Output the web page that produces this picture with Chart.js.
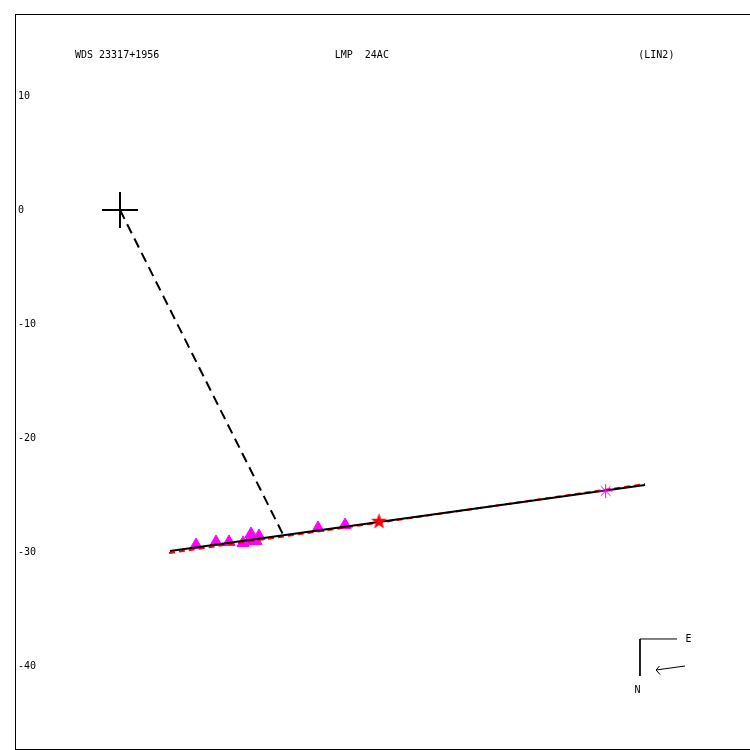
<!DOCTYPE html>
<html>
<head>
<meta charset="utf-8">
<script src="https://cdn.jsdelivr.net/npm/chart.js@4/dist/chart.umd.min.js"></script>
<style>
html, body { margin: 0; padding: 0; background: #fff; }
canvas { display: block; }
</style>
</head>
<body>
<canvas id="plot" width="750" height="750"></canvas>
<script>
// header texts and axis ticks
var header_labels = ["WDS 23317+1956", "LMP  24AC", "(LIN2)"];
var header_slots = [0.0816, 0.435, 0.848];
var y_ticks = [10, 0, -10, -20, -30, -40];
var x_range = [-9.21, 55.26];
var y_range = [-47.28, 17.19];

// measures (triangles)
var measure_x = [6.67, 8.42, 9.56, 10.79, 11.32, 11.49, 11.93, 12.19, 17.37, 19.74];
var measure_y = [-29.39, -29.12, -29.12, -29.21, -29.04, -28.42, -29.04, -28.60, -27.89, -27.63];

// special points
var star_x = [22.72], star_y = [-27.24];
var aster_x = [42.6], aster_y = [-24.65];

// fitted line and previous solution
var fit_x = [4.39, 46.05], fit_y = [-29.91, -24.12];
var prev_x = [4.30, 46.05], prev_y = [-30.09, -24.04];

// residual from primary to line
var resid_x = [0, 14.30], resid_y = [0, -28.46];

// primary cross
var cross_h_x = [-1.58, 1.58], cross_h_y = [0, 0];
var cross_v_x = [0, 0], cross_v_y = [1.58, -1.58];

// compass
var compass_x = [48.86, 45.61, 45.61], compass_y = [-37.63, -37.63, -40.88];
var arrow_x = [49.56, 47.02], arrow_y = [-40.0, -40.35];
var head_x = [47.32, 47.02, 47.37], head_y = [-40.0, -40.35, -40.75];
var compass_labels = ["E", "N"];
var compass_label_x = [49.87, 45.39], compass_label_y = [-37.63, -42.11];

function pts(xs, ys) {
	return xs.map(function (v, i) { return { x: v, y: ys[i] }; });
}

function starImage(size, color) {
	var c = document.createElement("canvas");
	c.width = size; c.height = size;
	var g = c.getContext("2d");
	g.fillStyle = color;
	g.beginPath();
	for (var k = 0; k < 10; k++) {
		var r = k % 2 === 0 ? size / 2 : size / 5;
		var a = -Math.PI / 2 + k * Math.PI / 5;
		g.lineTo(size / 2 + r * Math.cos(a), size / 2 + 1 + r * Math.sin(a));
	}
	g.closePath();
	g.fill();
	return c;
}

function lineSet(xs, ys, color, width, dash, order) {
	return {
		data: pts(xs, ys),
		showLine: true,
		borderColor: color,
		borderWidth: width,
		borderDash: dash,
		pointRadius: 0,
		fill: false,
		order: order
	};
}

var notes = {
	id: "notes",
	afterDatasetsDraw: function (chart) {
		var ctx = chart.ctx, area = chart.chartArea;
		var xs = chart.scales.x, ys = chart.scales.y;
		ctx.save();
		ctx.font = "10px 'DejaVu Sans Mono'";
		ctx.fillStyle = "#000";
		ctx.textBaseline = "middle";
		ctx.textAlign = "left";
		for (var i = 0; i < header_labels.length; i++) {
			ctx.fillText(header_labels[i], area.left + area.width * header_slots[i], area.top + 41);
		}
		ctx.textAlign = "center";
		for (var j = 0; j < compass_labels.length; j++) {
			ctx.fillText(compass_labels[j], xs.getPixelForValue(compass_label_x[j]), ys.getPixelForValue(compass_label_y[j]));
		}
		ctx.restore();
	}
};

Chart.defaults.font.family = "'DejaVu Sans Mono'";
Chart.defaults.font.size = 10;
Chart.defaults.color = "#000";

function noPad(scale) {
	scale.paddingTop = 0;
	scale.paddingBottom = 0;
	scale.paddingLeft = 0;
	scale.paddingRight = 0;
	if (scale.isHorizontal()) scale.height = 0; else scale.width = 0;
}

var flatAxis = function (position, lo, hi) {
	return {
		type: "linear",
		position: position,
		display: true,
		min: lo,
		max: hi,
		grid: { display: false, drawTicks: false },
		border: { display: true, color: "#000", width: 1 },
		ticks: { display: false },
		afterFit: noPad
	};
};

var yAxis = flatAxis("left", y_range[0], y_range[1]);
yAxis.ticks = { display: true, mirror: true, padding: 3, color: "#000", font: { size: 10 } };
yAxis.afterBuildTicks = function (scale) {
	scale.ticks = y_ticks.map(function (v) { return { value: v }; });
};

var chart = new Chart(document.getElementById("plot").getContext("2d"), {
	type: "scatter",
	data: {
		datasets: [
			lineSet(fit_x, fit_y, "#000", 2, [], 1),
			lineSet(prev_x, prev_y, "#ff0000", 2, [6, 4], 2),
			lineSet(resid_x, resid_y, "#000", 2, [10, 6], 1),
			lineSet(cross_h_x, cross_h_y, "#000", 2, [], 1),
			lineSet(cross_v_x, cross_v_y, "#000", 2, [], 1),
			lineSet(compass_x, compass_y, "#000", 1, [], 1),
			lineSet(arrow_x, arrow_y, "#000", 1, [], 1),
			lineSet(head_x, head_y, "#000", 1, [], 1),
			{
				data: pts(measure_x, measure_y),
				pointStyle: "triangle",
				pointRadius: 7,
				backgroundColor: "#ff00ff",
				borderColor: "#ff00ff",
				borderWidth: 1,
				order: 3
			},
			{
				data: pts(star_x, star_y),
				pointStyle: starImage(17, "#ff0000"),
				pointRadius: 8,
				order: 0
			},
			{
				data: pts(aster_x, aster_y),
				pointStyle: "star",
				pointRadius: 7,
				borderColor: "#ff00ff",
				borderWidth: 1,
				order: 0
			}
		]
	},
	options: {
		responsive: false,
		animation: false,
		devicePixelRatio: 1,
		layout: { autoPadding: false, padding: { left: 15, top: 14, right: 0, bottom: 1 } },
		plugins: { legend: { display: false }, tooltip: { enabled: false } },
		scales: {
			x: flatAxis("bottom", x_range[0], x_range[1]),
			x2: flatAxis("top", x_range[0], x_range[1]),
			y: yAxis
		}
	},
	plugins: [notes]
});

window.chart = chart;
</script>
</body>
</html>
